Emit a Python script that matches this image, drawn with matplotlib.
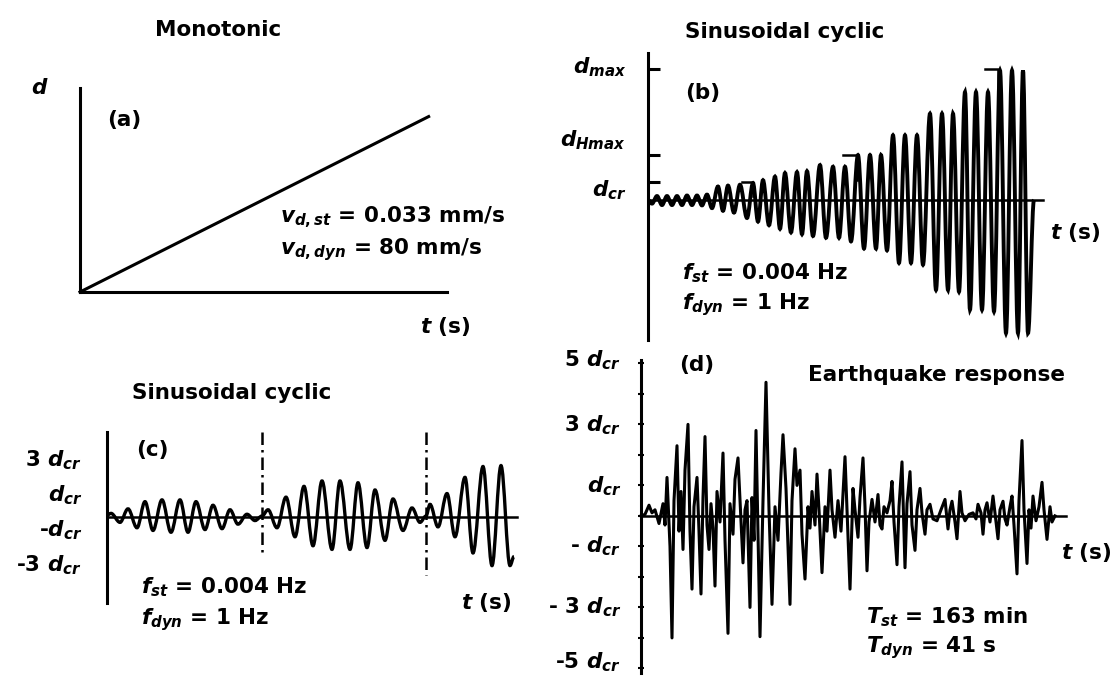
import matplotlib
matplotlib.use("Agg")
import matplotlib.pyplot as plt
from matplotlib.path import Path
from matplotlib.patches import PathPatch

plt.rcParams['font.family'] = ['DejaVu Sans']
plt.rcParams['font.weight'] = 'bold'
plt.rcParams['mathtext.fontset'] = 'custom'
plt.rcParams['mathtext.rm'] = 'DejaVu Sans:bold'
plt.rcParams['mathtext.bf'] = 'DejaVu Sans:bold'
plt.rcParams['mathtext.it'] = 'DejaVu Sans:italic:bold'

# ---------------- data ----------------
# (a) monotonic loading (arbitrary units)
mono_t = [0.0, 0.95]
mono_d = [0.0, 0.86]

# (b) sinusoidal cyclic, staged amplitudes (time in arbitrary units, d in d_cr)
b_t = [0, 4, 9, 14, 19, 24, 29, 34, 39, 44, 49, 54, 59, 64, 70, 75, 80, 86, 92, 99,
       105, 110, 115, 121, 127, 132, 137, 143, 149, 154, 159, 165, 172, 178, 185, 191,
       197, 203, 210, 216, 222, 228, 233, 239, 245, 251, 257, 263, 269, 275, 282, 288,
       294, 300, 305, 311, 317, 322, 328, 334, 340, 346, 352, 358, 364, 370, 375, 380, 386]
b_d = [0.0, -0.2, 0.22, -0.28, 0.22, -0.28, 0.22, -0.28, 0.25, -0.28, 0.25, -0.3, 0.3, -0.45,
       0.75, -0.6, 0.8, -0.7, 0.85, -1.0, 0.94, -1.2, 1.1, -1.4, 1.3, -1.6, 1.5, -1.8, 1.55,
       -1.9, 1.6, -2.0, 1.94, -2.1, 1.85, -2.1, 1.85, -2.3, 2.5, -2.7, 2.5, -2.7, 2.5, -2.8,
       3.6, -3.5, 3.6, -3.5, 3.6, -3.6, 4.8, -5.0, 4.8, -5.0, 4.8, -5.1, 6.0, -6.1, 6.0, -6.1,
       6.0, -6.2, 7.2, -7.4, 7.2, -7.4, 7.2, -7.4, 0.0]
b_levels = [7.3, 2.5, 1.0]                      # d_max, d_Hmax, d_cr
b_level_labels = ['$d_{max}$', '$d_{Hmax}$', '$d_{cr}$']
b_step_start = [337, 195, 94]
b_step_end = [350, 209, 105]
b_step_drop = [5.2, 1.1, 0.2]
b_t_end = 395

# (c) sinusoidal cyclic, three stages
c_t = [0, 4, 13, 21, 30, 38, 46, 55, 64, 73, 81, 89, 98, 106, 115, 123, 131, 140, 148, 155,
       161, 170, 179, 188, 197, 206, 215, 225, 233, 243, 251, 260, 268, 278, 286, 296, 305,
       313, 319, 323, 331, 340, 348, 358, 366, 376, 385, 394, 403, 407]
c_d = [0.1, 0.2, -0.3, 0.45, -0.6, 0.85, -0.75, 0.95, -0.85, 0.95, -0.85, 0.85, -0.7, 0.65,
       -0.65, 0.4, -0.4, 0.15, -0.2, 0.05,
       0.4, -0.6, 1.1, -1.1, 1.7, -1.6, 2.0, -1.8, 2.0, -1.8, 1.9, -1.7, 1.5, -1.3, 1.0,
       -0.75, 0.5, -0.3, 0.05,
       0.7, -0.55, 1.3, -1.1, 2.2, -2.0, 2.8, -2.7, 2.85, -2.7, -2.2]
c_stage_t = [155, 319]
c_stage_bottom = [-2.0, -3.2]
c_labels = ['3 $d_{cr}$', '$d_{cr}$', '-$d_{cr}$', '-3 $d_{cr}$']
c_t_end = 410

# (d) earthquake response
d_t = [0, 4, 8, 11, 14, 18, 22, 24, 26, 29, 31, 33, 36, 38, 40, 42, 44, 47, 49, 51, 53, 56,
       58, 60, 62, 64, 66, 68, 70, 72, 74, 76, 79, 82, 84, 87, 89, 92, 94, 97, 99, 102, 104,
       106, 109, 111, 113, 115, 117, 119, 122, 125, 128, 131, 134, 137, 140, 142, 145, 147,
       149, 151, 154, 156, 159, 161, 164, 167, 169, 171, 174, 176, 178, 181, 184, 186, 189,
       191, 194, 197, 200, 204, 206, 209, 212, 214, 217, 219, 222, 224, 226, 228, 231, 234,
       237, 239, 241, 243, 246, 249, 251, 253, 256, 258, 261, 264, 266, 269, 271, 274, 276,
       279, 281, 284, 286, 289, 292, 296, 300, 304, 307, 309, 311, 314, 316, 319, 321, 324,
       328, 332, 335, 337, 340, 342, 344, 346, 349, 352, 354, 357, 359, 362, 364, 366, 369,
       371, 373, 376, 378, 381, 383, 386, 388, 390, 392, 395, 398, 401, 403, 406, 409, 411,
       414]
d_d = [0.0, 0.05, 0.35, 0.1, 0.2, -0.25, 0.4, -0.3, 1.26, -1.0, -4.0, 0.5, 2.3, -0.5, 0.8,
       -1.1, 1.5, 3.0, -0.5, -2.4, 0.3, 1.26, -0.5, -2.56, 0.6, 2.6, -0.3, -1.1, 0.4, -0.4,
       -2.3, 0.8, -0.2, 2.06, -0.8, -3.85, 0.4, -0.6, 1.2, 1.9, 0.5, -1.54, 0.2, 0.5, -3.0,
       0.6, -0.8, 2.8, -0.6, -3.96, 0.5, 4.38, 0.2, -2.9, 0.3, -0.8, 1.4, 2.66, 0.9, -1.0,
       -2.9, 0.5, 2.2, 1.0, 1.5, -0.6, -2.07, 0.3, -0.4, 0.8, -0.3, 1.37, 0.2, -1.86, 0.3,
       -0.5, 1.5, 0.2, -0.7, 0.5, -0.5, 1.94, 0.2, -2.4, 0.9, 0.2, -0.7, 0.6, 1.9, 0.3, -1.8,
       -0.2, 0.54, -0.2, 0.7, -0.3, -0.43, 0.3, 0.1, 0.5, 1.13, -0.2, -1.6, 0.3, 1.77, -1.7,
       0.4, 1.45, -0.3, -1.13, 0.2, 0.9, 0.1, -0.6, 0.2, 0.38, -0.1, -0.16, 0.2, 0.54, -0.43,
       0.2, 0.48, -0.2, -0.75, 0.8, 0.1, -0.16, 0.05, 0.1, -0.1, 0.38, 0.1, -0.6, 0.2, 0.43,
       -0.2, 0.65, 0.1, -0.75, 0.2, 0.48, -0.1, -0.3, 0.3, 0.65, -0.3, -1.9, 0.5, 2.47, 0.2,
       -1.56, 0.2, -0.4, 0.65, -0.16, 0.3, 1.1, 0.2, -0.77, 0.3, -0.2, 0.0]
d_ticks = [5, 3, 1, -1, -3, -5]
d_tick_labels = ['5 $d_{cr}$', '3 $d_{cr}$', '$d_{cr}$', '- $d_{cr}$', '- 3 $d_{cr}$', '-5 $d_{cr}$']
d_t_end = 425

# ---------------- figure ----------------
W, H = 1115, 678
fig = plt.figure(figsize=(W / 100, H / 100), dpi=100)
fig.patch.set_facecolor('white')

bg = fig.add_axes([0, 0, 1, 1])
bg.set_xlim(0, W)
bg.set_ylim(H, 0)
bg.axis('off')


def add_ax(l, t, r, b):
    ax = fig.add_axes([l / W, 1 - b / H, (r - l) / W, (b - t) / H])
    ax.patch.set_visible(False)
    for s in ['top', 'right', 'bottom']:
        ax.spines[s].set_visible(False)
    ax.spines['left'].set_linewidth(2.2)
    ax.set_xticks([])
    ax.set_yticks([])
    return ax


def smooth_path(ts, vs):
    verts = [(ts[0], vs[0])]
    codes = [Path.MOVETO]
    for i in range(len(ts) - 1):
        dt = ts[i + 1] - ts[i]
        verts += [(ts[i] + 0.36 * dt, vs[i]), (ts[i + 1] - 0.36 * dt, vs[i + 1]),
                  (ts[i + 1], vs[i + 1])]
        codes += [Path.CURVE4] * 3
    return Path(verts, codes)


LW = 2.2
TS = 15.5

# ---- (a)
axa = add_ax(80, 88, 447, 292)
axa.spines['bottom'].set_visible(True)
axa.spines['bottom'].set_linewidth(LW)
axa.set_xlim(0, 1)
axa.set_ylim(0, 1)
axa.plot(mono_t, mono_d, color='black', lw=LW, clip_on=False)

bg.text(218, 30, 'Monotonic', ha='center', va='center', fontsize=TS)
bg.text(40, 88, '$d$', ha='center', va='center', fontsize=TS)
bg.text(124, 120, '(a)', ha='center', va='center', fontsize=TS)
bg.text(280, 217, '$v_{d,st}$ = 0.033 mm/s', ha='left', va='center', fontsize=TS)
bg.text(280, 250, '$v_{d,dyn}$ = 80 mm/s', ha='left', va='center', fontsize=TS)
bg.text(445, 327, '$t$ (s)', ha='center', va='center', fontsize=TS)

# ---- (b)
axb = add_ax(648, 53, 1060, 340)
axb.set_xlim(0, 412)
axb.set_ylim(-7.78, 8.17)
axb.set_yticks(b_levels)
axb.tick_params(axis='y', direction='in', length=8.5, width=LW, labelleft=False)
axb.plot([0, b_t_end], [0, 0], color='black', lw=1.8, clip_on=False)
axb.add_patch(PathPatch(smooth_path(b_t, b_d), fill=False, lw=2.8, ec='black',
                        clip_on=False))
for s0, s1, lev, dr in zip(b_step_start, b_step_end, b_levels, b_step_drop):
    axb.plot([s0, s1, s1], [lev, lev, dr], color='black', lw=1.8, clip_on=False)

bg.text(785, 32, 'Sinusoidal cyclic', ha='center', va='center', fontsize=TS)
bg.text(626, 67, b_level_labels[0], ha='right', va='center', fontsize=TS)
bg.text(626, 140, b_level_labels[1], ha='right', va='center', fontsize=TS)
bg.text(626, 190, b_level_labels[2], ha='right', va='center', fontsize=TS)
bg.text(703, 93, '(b)', ha='center', va='center', fontsize=TS)
bg.text(682, 273, '$f_{st}$ = 0.004 Hz', ha='left', va='center', fontsize=TS)
bg.text(682, 305, '$f_{dyn}$ = 1 Hz', ha='left', va='center', fontsize=TS)
bg.text(1075, 233, '$t$ (s)', ha='center', va='center', fontsize=TS)

# ---- (c)
axc = add_ax(107, 432, 520, 603)
axc.set_xlim(0, 413)
axc.set_ylim(-4.78, 4.72)
axc.plot([0, c_t_end], [0, 0], color='black', lw=1.8, clip_on=False)
axc.add_patch(PathPatch(smooth_path(c_t, c_d), fill=False, lw=2.4, ec='black',
                        clip_on=False))
for st, sb in zip(c_stage_t, c_stage_bottom):
    axc.plot([st, st], [4.7, sb], color='black', lw=1.8, ls=(0, (5, 2, 1, 2)),
             clip_on=False)

bg.text(232, 393, 'Sinusoidal cyclic', ha='center', va='center', fontsize=TS)
for lab, yy in zip(c_labels, [460, 495, 530, 565]):
    bg.text(82, yy, lab, ha='right', va='center', fontsize=TS)
bg.text(152, 450, '(c)', ha='center', va='center', fontsize=TS)
bg.text(141, 587, '$f_{st}$ = 0.004 Hz', ha='left', va='center', fontsize=TS)
bg.text(141, 620, '$f_{dyn}$ = 1 Hz', ha='left', va='center', fontsize=TS)
bg.text(486, 603, '$t$ (s)', ha='center', va='center', fontsize=TS)

# ---- (d)
axd = add_ax(641, 360, 1070, 673)
axd.set_xlim(0, 429)
axd.set_ylim(-5.15, 5.11)
axd.set_yticks(d_ticks)
axd.set_yticks([4, 2, 0, -2, -4], minor=True)
axd.tick_params(axis='y', which='both', direction='inout', length=4, width=1.5,
                labelleft=False)
axd.plot([0, d_t_end], [0, 0], color='black', lw=1.8, clip_on=False)
axd.plot(d_t, d_d, color='black', lw=2.2, clip_on=False)
for lab, yy in zip(d_tick_labels, [360, 425, 486, 546, 607, 662]):
    bg.text(621, yy, lab, ha='right', va='center', fontsize=TS)

bg.text(697, 365, '(d)', ha='center', va='center', fontsize=TS)
bg.text(937, 375, 'Earthquake response', ha='center', va='center', fontsize=TS)
bg.text(866, 617, '$T_{st}$ = 163 min', ha='left', va='center', fontsize=TS)
bg.text(866, 648, '$T_{dyn}$ = 41 s', ha='left', va='center', fontsize=TS)
bg.text(1086, 553, '$t$ (s)', ha='center', va='center', fontsize=TS)

fig.savefig('out.png', dpi=100, facecolor='white')
